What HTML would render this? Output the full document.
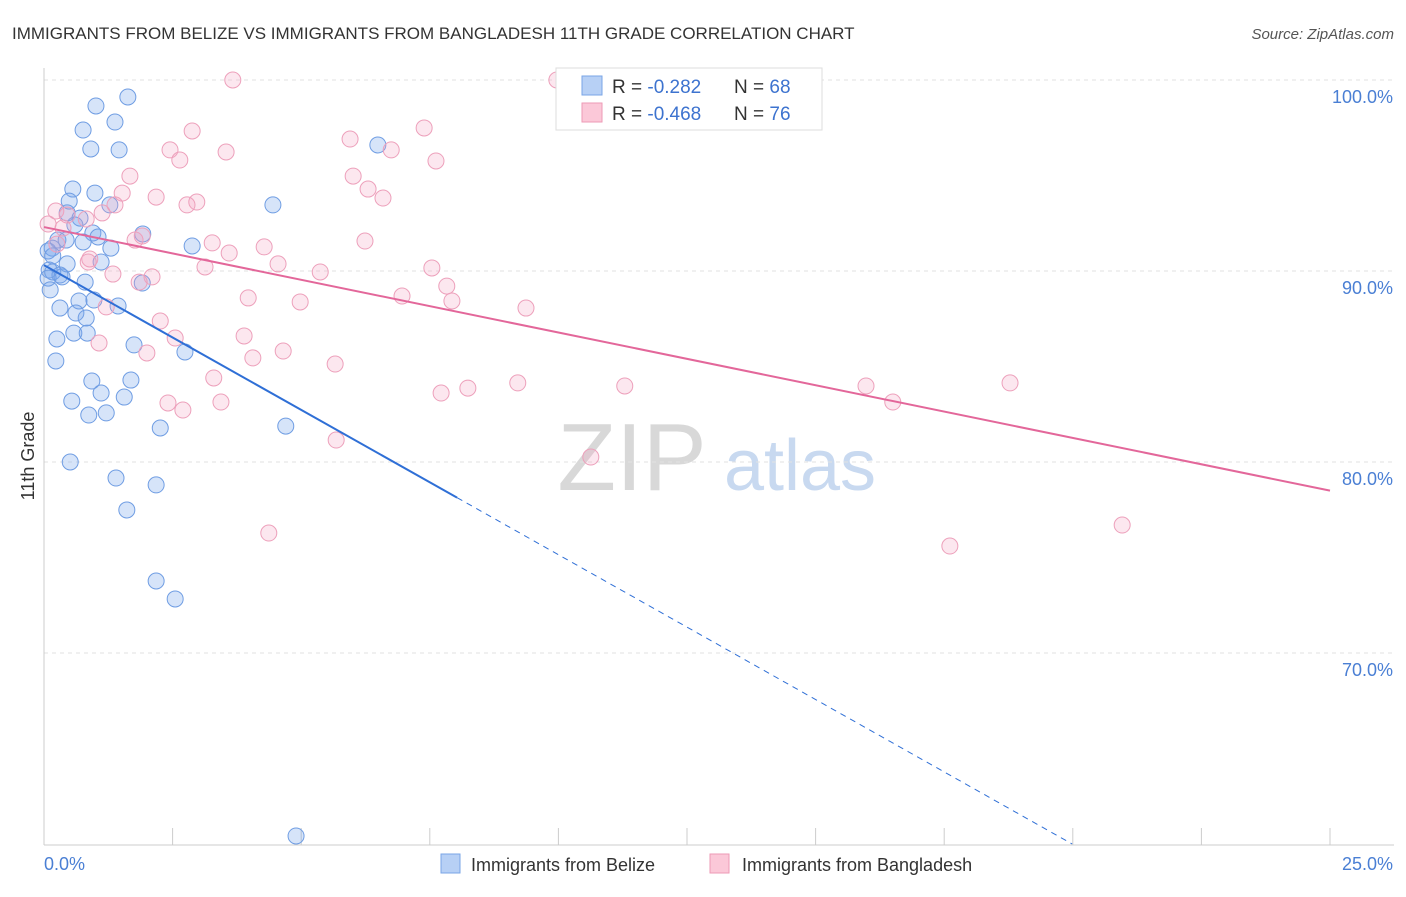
<!DOCTYPE html>
<html><head><meta charset="utf-8"><style>
body{margin:0;background:#fff;font-family:"Liberation Sans",sans-serif;}
svg text{font-family:"Liberation Sans",sans-serif;}
</style></head><body>
<svg id="chart" width="1406" height="892" xmlns="http://www.w3.org/2000/svg">
<text x="12" y="39" font-size="17" fill="#333">IMMIGRANTS FROM BELIZE VS IMMIGRANTS FROM BANGLADESH 11TH GRADE CORRELATION CHART</text>
<text x="1394" y="39" font-size="15" fill="#555" text-anchor="end" font-style="italic">Source: ZipAtlas.com</text>
<g>
<text x="632" y="490" font-size="96" fill="#d8d8d8" text-anchor="middle" font-family="Liberation Serif">ZIP</text>
<text x="800" y="490" font-size="72" fill="#c8d9f0" text-anchor="middle">atlas</text>
</g>
<g id="grid"></g>
<g id="yticks"></g>
<line x1="44" y1="68" x2="44" y2="845" stroke="#ccc"/>
<line x1="44" y1="845" x2="1394" y2="845" stroke="#ccc"/>
<g id="xticks"></g>
<text transform="translate(34,456) rotate(-90)" font-size="18" fill="#333" text-anchor="middle">11th Grade</text>
<text x="44" y="870" font-size="18" fill="#4a7fd4">0.0%</text>
<text x="1393" y="870" font-size="18" fill="#4a7fd4" text-anchor="end">25.0%</text>
<g id="points"></g>
<g id="trends"></g>
<g>
<rect x="556" y="68" width="266" height="62" fill="#fff" stroke="#ddd"/>
<rect x="582" y="76" width="20" height="19" fill="#b7d0f5" stroke="#7aa5e6"/>
<rect x="582" y="103" width="20" height="19" fill="#fbc8d8" stroke="#ee9ab6"/>
<text x="612" y="93" font-size="19" fill="#333">R = <tspan fill="#3d73cf">-0.282</tspan></text>
<text x="734" y="93" font-size="19" fill="#333">N = <tspan fill="#3d73cf">68</tspan></text>
<text x="612" y="120" font-size="19" fill="#333">R = <tspan fill="#3d73cf">-0.468</tspan></text>
<text x="734" y="120" font-size="19" fill="#333">N = <tspan fill="#3d73cf">76</tspan></text>
</g>
<g>
<rect x="441" y="854" width="19" height="19" fill="#b7d0f5" stroke="#7aa5e6"/>
<text x="471" y="871" font-size="18" fill="#333">Immigrants from Belize</text>
<rect x="710" y="854" width="19" height="19" fill="#fbc8d8" stroke="#ee9ab6"/>
<text x="742" y="871" font-size="18" fill="#333">Immigrants from Bangladesh</text>
</g>
</svg>
<script>
const yTicks=[100,90,80,70];
const yTickLabels=["100.0%","90.0%","80.0%","70.0%"];
const xTickVals=[0,2.5,5,7.5,10,12.5,15,17.5,20,22.5,25];
const belizeX=[1.63,1.01,1.38,0.76,0.91,1.46,6.49,0.56,0.99,0.49,1.28,4.45,0.45,0.70,0.60,0.95,1.92,1.05,0.27,0.76,0.43,0.16,1.30,2.88,0.08,0.17,1.11,0.45,0.10,0.17,0.31,0.08,0.35,0.80,1.91,0.12,0.97,0.68,1.44,0.31,0.62,0.82,0.58,0.84,0.25,1.75,2.74,0.23,0.93,1.69,1.11,1.56,0.54,0.87,1.21,2.26,4.70,0.51,1.40,2.18,1.61,2.18,2.55,4.90];
const belizeY=[99.11,98.64,97.80,97.38,96.39,96.34,96.60,94.29,94.08,93.66,93.46,93.46,93.04,92.77,92.41,91.99,91.94,91.78,91.62,91.52,91.62,91.20,91.20,91.31,91.05,90.79,90.47,90.37,90.05,89.95,89.79,89.63,89.69,89.42,89.37,89.01,88.48,88.43,88.17,88.06,87.80,87.54,86.75,86.75,86.44,86.13,85.76,85.29,84.24,84.29,83.61,83.40,83.19,82.46,82.57,81.78,81.88,80.00,79.16,78.80,77.49,73.77,72.83,60.42];
const bangX=[3.67,9.97,2.88,7.39,5.95,2.45,6.75,3.54,2.64,7.62,1.67,6.01,1.52,6.30,2.18,6.59,2.97,2.78,1.38,0.23,1.13,0.45,0.82,0.08,0.37,1.77,1.91,6.24,3.27,4.28,0.25,0.89,3.60,0.86,3.13,4.55,5.37,7.54,1.34,2.10,1.85,7.83,3.97,6.96,4.98,7.93,9.37,1.21,2.26,2.55,3.89,1.07,2.00,4.65,4.06,5.66,3.30,9.21,11.29,8.24,15.98,18.78,7.72,2.41,3.44,2.70,16.50,5.68,10.63,20.96,4.37,17.61];
const bangY=[100.0,100.0,97.33,97.49,96.91,96.34,96.34,96.23,95.81,95.76,94.97,94.97,94.08,94.29,93.87,93.82,93.61,93.46,93.46,93.14,93.04,92.93,92.72,92.46,92.25,91.62,91.83,91.57,91.47,91.26,91.41,90.63,90.94,90.47,90.21,90.37,89.95,90.16,89.84,89.69,89.42,89.21,88.59,88.69,88.38,88.43,88.06,88.12,87.38,86.49,86.60,86.23,85.71,85.81,85.45,85.13,84.40,84.14,83.98,83.87,83.98,84.14,83.61,83.09,83.14,82.72,83.14,81.15,80.26,76.70,76.28,75.60];
const belizeTrend=[90.31,52.4];
const bangTrend=[92.3,78.5];
const NS="http://www.w3.org/2000/svg";
function sx(v){return 44+v*51.44;}
function sy(v){return 80+(100-v)*19.1;}
function mk(tag,attrs,parent){const e=document.createElementNS(NS,tag);for(const k in attrs)e.setAttribute(k,attrs[k]);parent.appendChild(e);return e;}
const grid=document.getElementById('grid'),yt=document.getElementById('yticks'),xt=document.getElementById('xticks');
yTicks.forEach((t,i)=>{
 const l=mk('line',{x1:44,x2:1394,y1:sy(t),y2:sy(t),stroke:'#e2e2e2','stroke-dasharray':'4,4'},grid);
 
 
 const tx=mk('text',{x:1393,y:sy(t)+23,'font-size':18,fill:'#4a7fd4','text-anchor':'end'},yt);
 tx.textContent=yTickLabels[i];
 
 
});
xTickVals.forEach(v=>{
 const l=mk('line',{x1:sx(v),x2:sx(v),y1:828,y2:845,stroke:'#ccc'},xt);
 
 
});
const pts=document.getElementById('points');
belizeX.forEach((x,i)=>{
 const c=mk('circle',{cx:sx(x),cy:sy(belizeY[i]),r:8,fill:'rgba(120,165,235,0.3)',stroke:'#6f9de3','stroke-width':1},pts);
 
 
});
bangX.forEach((x,i)=>{
 const c=mk('circle',{cx:sx(x),cy:sy(bangY[i]),r:8,fill:'rgba(245,160,190,0.25)',stroke:'#eda0bb','stroke-width':1},pts);
 
 
});
const tr=document.getElementById('trends');
function ly(tv,x){return tv[0]+(tv[1]-tv[0])*x/25;}
const bSolidEnd=8.03;
let l1=mk('line',{x1:sx(0),y1:sy(ly(belizeTrend,0)),x2:sx(bSolidEnd),y2:sy(ly(belizeTrend,bSolidEnd)),stroke:'#2f6fd6','stroke-width':2},tr);


const xEnd=(60-belizeTrend[0])/((belizeTrend[1]-belizeTrend[0])/25);
let l2=mk('line',{x1:sx(bSolidEnd),y1:sy(ly(belizeTrend,bSolidEnd)),x2:sx(xEnd),y2:sy(60),stroke:'#2f6fd6','stroke-width':1,'stroke-dasharray':'6,5'},tr);


let l3=mk('line',{x1:sx(0),y1:sy(bangTrend[0]),x2:sx(25),y2:sy(bangTrend[1]),stroke:'#e3679a','stroke-width':2},tr);


</script>
</body></html>
